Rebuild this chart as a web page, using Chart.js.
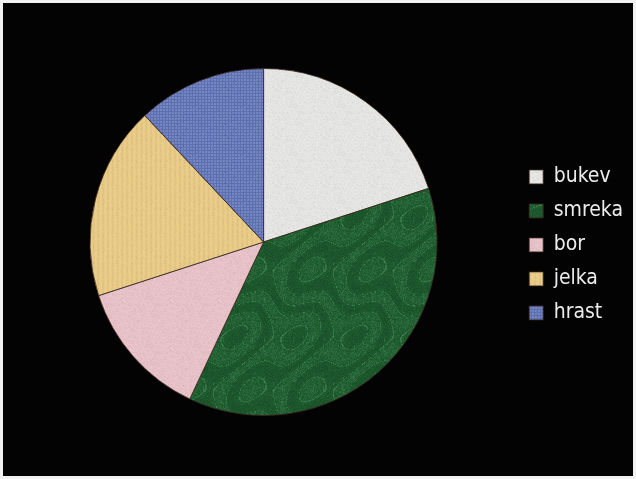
<!DOCTYPE html>
<html lang="sl">
<head>
<meta charset="UTF-8">
<title>Drevesne vrste</title>
<script src="https://cdn.jsdelivr.net/npm/chart.js"></script>
<style>
  html, body { margin: 0; padding: 0; background: #f2f2f2; }
  #okvir { position: absolute; left: 3px; top: 3px; width: 630px; height: 473px; background: #030303; }
</style>
</head>
<body>
<div id="okvir"><canvas id="Graf"></canvas></div>
<script>
// podatki (deleži v %)
var vrste = ['bukev', 'smreka', 'bor', 'jelka', 'hrast'];
var delezi = [20, 37, 13, 18, 12];
var barve = ['#e6e6e4', '#1d5a2d', '#e9c3c9', '#e9cb86', '#6c7fc4'];

// preprosta tekstura za vsako barvo (ploščica se ponavlja brez šivov)
function hash(x, y) {
    var s = Math.sin(x * 12.9898 + y * 78.233) * 43758.5453;
    return s - Math.floor(s);
}
function tekstura(barva, vrsta) {
    var v = vrsta === 1 ? 120 : 48;
    var P = Math.PI * 2;
    var c = document.createElement('canvas');
    c.width = v; c.height = v;
    var g = c.getContext('2d');
    g.fillStyle = barva;
    g.fillRect(0, 0, v, v);
    for (var y = 0; y < v; y++) {
        for (var x = 0; x < v; x++) {
            var n = hash(x, y);
            var a;
            if (vrsta === 1) {
                var f = Math.sin(P * (x * 2 / v + 0.8 * Math.sin(P * y / v) + 0.3 * Math.sin(P * 2 * x / v + P * y / v)));
                var h = Math.sin(P * (y * 3 / v + 0.6 * Math.sin(P * 2 * x / v) + 0.2 * Math.sin(P * 3 * y / v)));
                a = (Math.abs(f) < 0.07 ? 0.16 : 0) + (Math.abs(h) < 0.05 ? 0.1 : 0) + f * 0.06 + (n - 0.5) * 0.16;
            }
            else if (vrsta === 4) a = ((x % 3 === 0) || (y % 3 === 0) ? -0.12 : 0.05) + (n - 0.5) * 0.1;
            else if (vrsta === 3) a = Math.sin(x * P / 4.8) * 0.04 + (n - 0.5) * 0.06;
            else a = (n - 0.5) * 0.1;
            g.fillStyle = a > 0 ? 'rgba(170,255,190,' + a + ')' : 'rgba(0,0,0,' + (-a) + ')';
            if (vrsta !== 1 && a > 0) g.fillStyle = 'rgba(255,255,255,' + a + ')';
            g.fillRect(x, y, 1, 1);
        }
    }
    return g.createPattern(c, 'repeat');
}
var vzorci = barve.map(function (b, i) { return tekstura(b, i); });

var ctx = document.getElementById('Graf').getContext('2d');
var graf = new Chart(ctx, {
    type: 'pie',
    data: {
        labels: vrste,
        datasets: [{
            data: delezi,
            backgroundColor: vzorci,
            borderColor: 'rgba(60,40,30,0.8)',
            borderWidth: 1
        }]
    },
    options: {
        responsive: true,
        maintainAspectRatio: false,
        animation: false,
        layout: { padding: { top: 65, bottom: 60, left: 8, right: 0 } },
        plugins: {
            tooltip: { enabled: false },
            legend: {
                position: 'right',
                // prazen naslov le malo zamakne legendo navzdol
                title: { display: true, text: ' ', font: { size: 4 }, padding: { top: 0, bottom: 1 } },
                labels: {
                    color: '#ececec',
                    boxWidth: 14,
                    boxHeight: 14,
                    padding: 13,
                    font: { family: "'DejaVu Sans Condensed', 'DejaVu Sans'", size: 21 }
                }
            }
        }
    }
});
</script>
</body>
</html>
